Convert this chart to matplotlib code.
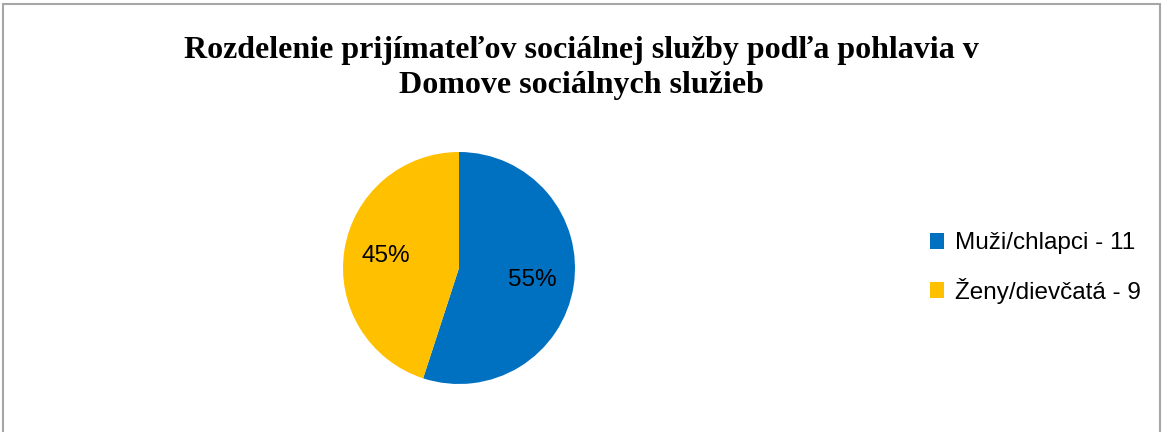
import matplotlib.pyplot as plt
from matplotlib.patches import Rectangle, Patch

# data
labels = ['Muži/chlapci - 11', 'Ženy/dievčatá - 9']
values = [11, 9]
colors = ['#0070C0', '#FFC000']
title = 'Rozdelenie prijímateľov sociálnej služby podľa pohlavia v\nDomove sociálnych služieb'

W, H = 1165, 432
fig = plt.figure(figsize=(W / 100, H / 100), dpi=100)

# outer frame
fig.add_artist(Rectangle((3 / W, -0.05), (1160 - 3) / W, (H - 4) / H + 0.05,
                         transform=fig.transFigure, fill=False,
                         edgecolor='#a6a6a6', linewidth=1.5))

fig.text(581 / W, 1 - 68 / H, title, ha='center', va='center',
         fontsize=23, fontweight='bold', family='Liberation Serif',
         linespacing=1.27)

cx, cy, r = 459, 268, 116
ax = fig.add_axes([(cx - r) / W, (H - cy - r) / H, 2 * r / W, 2 * r / H])
wedges, texts, autotexts = ax.pie(values, colors=colors, startangle=90, counterclock=False,
                                  autopct='%1.0f%%', pctdistance=0.64, radius=1,
                                  textprops={'fontsize': 17.5, 'family': 'Liberation Sans'})
ax.set_xlim(-1, 1)
ax.set_ylim(-1, 1)
ax.set_aspect('equal')

handles = [Patch(facecolor=c, edgecolor='none') for c in colors]
fig.legend(handles, labels, loc='center left', bbox_to_anchor=(908 / W, 1 - 268 / H),
           frameon=False, prop={'family': 'Liberation Sans', 'size': 17.5},
           handlelength=0.6, handleheight=0.6, handletextpad=0.45, labelspacing=0.95)

fig.savefig('out.png', dpi=100)
